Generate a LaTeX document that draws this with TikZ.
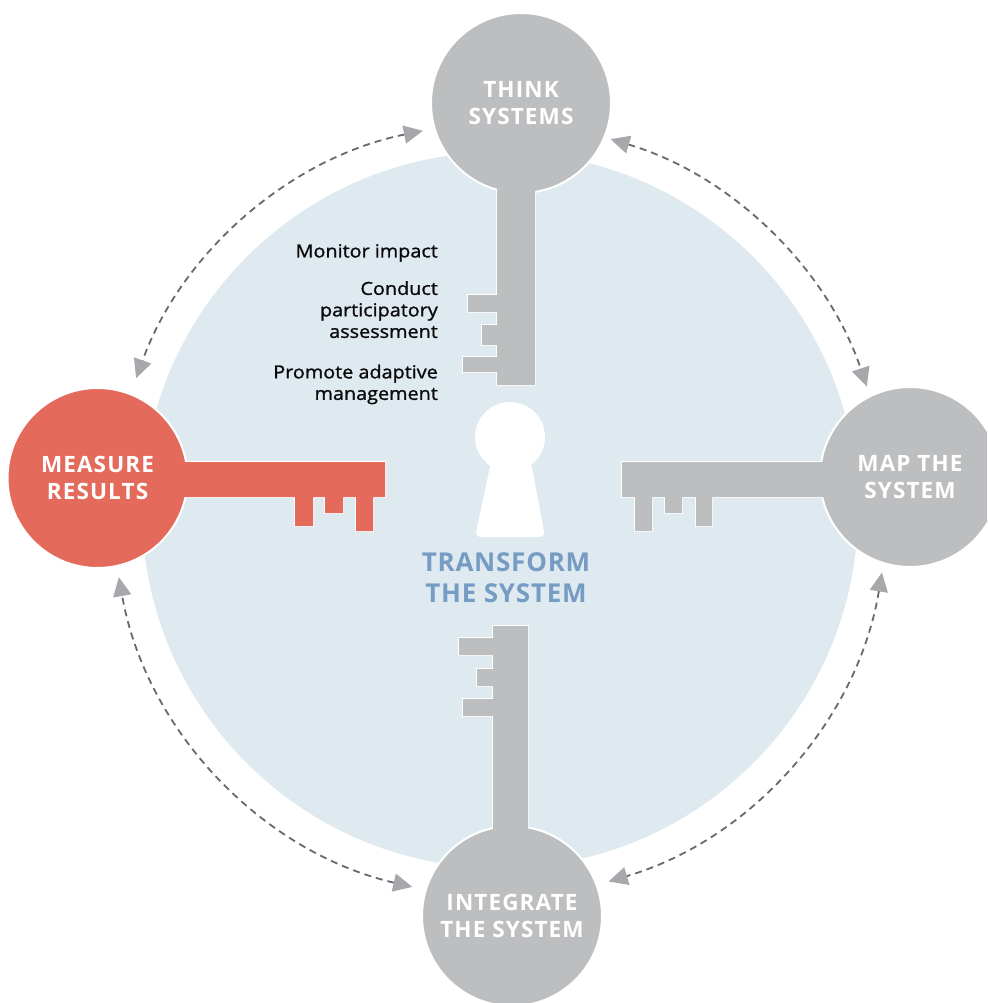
\documentclass[tikz,border=0pt]{standalone}
\usepackage{fontspec}
\setmainfont{Open Sans}
\newfontfamily\bodyfont{Open Sans}[FakeStretch=1.1,FakeBold=1.2]
\newfontfamily\capfont{Open Sans}[LetterSpace=5]
\newfontfamily\bigcapfont{Open Sans}[LetterSpace=3]
\usetikzlibrary{arrows.meta}
\definecolor{keygray}{RGB}{189,190,192}
\definecolor{keyred}{RGB}{228,106,92}
\definecolor{bgblue}{RGB}{222,233,240}
\definecolor{tblue}{RGB}{118,156,196}
\definecolor{tipgray}{RGB}{166,168,172}
\definecolor{dashgray}{RGB}{105,105,110}
\definecolor{textblack}{RGB}{10,10,10}
\begin{document}
\begin{tikzpicture}[x=1pt,y=-1pt,
  keycircle/.style={circle, minimum size=180, inner sep=0pt, draw=white, line width=2pt,
    font=\capfont\bfseries\fontsize{22.5}{27}\selectfont, text=white, align=center},
  keyout/.style={draw=white, line width=2.5pt},
  bodytext/.style={font=\bodyfont\fontsize{18}{21.5}\selectfont, text=textblack, align=right, inner sep=0pt, anchor=north east},
  cycarrow/.style={draw=dashgray, line width=1.8pt, dash pattern=on 7pt off 5pt,
    {Triangle[length=19pt,width=18pt,color=tipgray]}-{Triangle[length=19pt,width=18pt,color=tipgray]}},
  topshaft/.style={insert path={(497,178) -- (535,178) -- (535,385) -- (497,385) -- (497,372) -- (463,372) -- (463,357) -- (497,357) -- (497,345) -- (482,345) -- (482,325) -- (497,325) -- (497,312) -- (468,312) -- (468,295) -- (497,295) -- cycle}},
  botshaft/.style={insert path={(493,840) -- (528,840) -- (528,626) -- (493,626) -- (493,638) -- (459,638) -- (459,655) -- (493,655) -- (493,669) -- (477,669) -- (477,686) -- (493,686) -- (493,699) -- (463,699) -- (463,716) -- (493,716) -- cycle}},
  leftshaft/.style={insert path={(175,462) -- (385,462) -- (385,497) -- (373,497) -- (373,531) -- (356,531) -- (356,497) -- (343,497) -- (343,513) -- (325,513) -- (325,497) -- (313,497) -- (313,526) -- (295,526) -- (295,497) -- (175,497) -- cycle}},
  rightshaft/.style={insert path={(622,462) -- (830,462) -- (830,497) -- (712,497) -- (712,526) -- (696,526) -- (696,497) -- (682,497) -- (682,513) -- (665,513) -- (665,497) -- (652,497) -- (652,531) -- (635,531) -- (635,497) -- (622,497) -- cycle}},
  holefoot/.style={insert path={[rounded corners=6pt] (491,462) -- (531,462) -- (545,537) -- (475,537) -- cycle}},
]
\clip (0,0) rectangle (987,1003);
\fill[white] (0,0) rectangle (987,1003);

% central disc
\coordinate (c) at (500,510);
\fill[bgblue] (c) circle[radius=358];

% cycle arrows
\draw[cycarrow] ([shift={(258.5:387)}]c) arc[start angle=258.5, end angle=199.9, radius=387];
\draw[cycarrow] ([shift={(286.6:387)}]c) arc[start angle=286.6, end angle=341.4, radius=387];
\draw[cycarrow] ([shift={(9.3:387)}]c) arc[start angle=9.3, end angle=73.7, radius=387];
\draw[cycarrow] ([shift={(103.1:387)}]c) arc[start angle=103.1, end angle=170, radius=387];

% keys: white outlines of shafts
\path[keyout, topshaft];
\path[keyout, botshaft];
\path[keyout, leftshaft];
\path[keyout, rightshaft];

% key heads
\node[keycircle, fill=keygray] (think) at (521,103) {THINK\\SYSTEMS};
\node[keycircle, fill=keyred] (measure) at (97.5,478) {MEASURE\\RESULTS};
\node[keycircle, fill=keygray] (map) at (910,477) {MAP THE\\SYSTEM};
\node[keycircle, fill=keygray] (integrate) at (512,916) {INTEGRATE\\THE SYSTEM};

% shafts
\fill[keygray, topshaft];
\fill[keygray, botshaft];
\fill[keyred, leftshaft];
\fill[keygray, rightshaft];

% keyhole
\fill[white] (510,437) circle[radius=35];
\fill[white, holefoot];
\node[font=\bigcapfont\bfseries\fontsize{26}{31}\selectfont, text=tblue, align=center, inner sep=0pt] (transform) at (506,578) {TRANSFORM\\THE SYSTEM};

% step texts
\node[bodytext] (monitor) at (438,244) {Monitor impact};
\node[bodytext] (conduct) at (438,281) {Conduct\\participatory\\assessment};
\node[bodytext] (promote) at (438,364.5) {Promote adaptive\\management};
\end{tikzpicture}
\end{document}
